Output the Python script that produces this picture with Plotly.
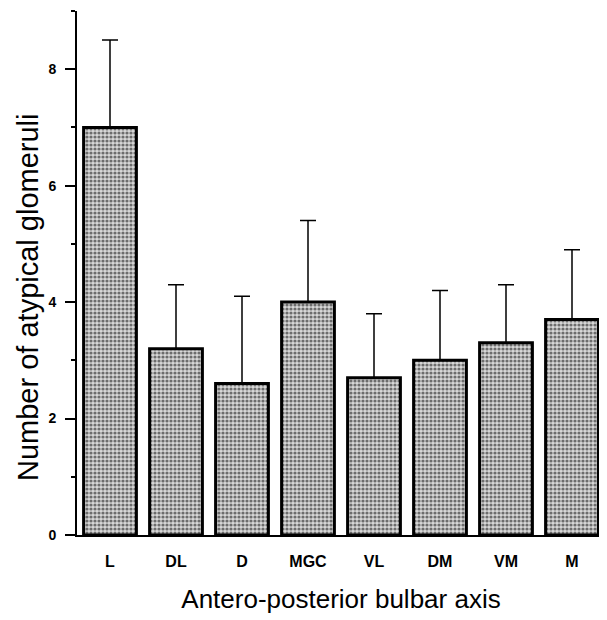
import plotly.graph_objects as go

categories = ["L", "DL", "D", "MGC", "VL", "DM", "VM", "M"]
means = [7.0, 3.2, 2.6, 4.0, 2.7, 3.0, 3.3, 3.7]
errors = [1.5, 1.1, 1.5, 1.4, 1.1, 1.2, 1.0, 1.2]
y_ticks = [0, 2, 4, 6, 8]

fig = go.Figure()
fig.add_trace(go.Bar(
    x=categories,
    y=means,
    marker=dict(
        color="#d0d0d0",
        line=dict(color="black", width=3),
        pattern=dict(shape=".", fgcolor="black", bgcolor="#d8d8d8", size=4, solidity=0.5),
    ),
    error_y=dict(type="data", symmetric=False, array=errors, arrayminus=[0] * len(errors),
                 color="black", thickness=1.5, width=8),
    width=0.8,
))

fig.update_layout(
    width=607, height=620,
    margin=dict(l=69, r=10, t=3, b=93),
    plot_bgcolor="white", paper_bgcolor="white",
    showlegend=False,
    font=dict(family="Arial, Liberation Sans, sans-serif", color="black"),
)
fig.update_xaxes(
    range=[-0.5, 7.5],
    showline=True, linecolor="black", linewidth=2,
    ticks="", showgrid=False,
    tickfont=dict(size=16, weight="bold"),
    ticklabelstandoff=11,
    title=dict(text="Antero-posterior bulbar axis", font=dict(size=26), standoff=21),
)
fig.update_yaxes(
    range=[0, 9],
    tickvals=y_ticks,
    showline=True, linecolor="black", linewidth=2,
    ticks="outside", ticklen=10, tickwidth=2, tickcolor="black",
    minor=dict(dtick=1, tick0=0, ticks="outside", ticklen=4, tickwidth=2, tickcolor="black"),
    showgrid=False, zeroline=False,
    tickfont=dict(size=14, weight="bold"),
    ticklabelstandoff=6,
)
fig.add_annotation(
    text="Number of atypical glomeruli",
    textangle=-90,
    xref="paper", yref="paper",
    x=-0.093, y=0.454,
    xanchor="center", yanchor="middle",
    showarrow=False,
    font=dict(size=29),
)

fig.write_html("out.html")
